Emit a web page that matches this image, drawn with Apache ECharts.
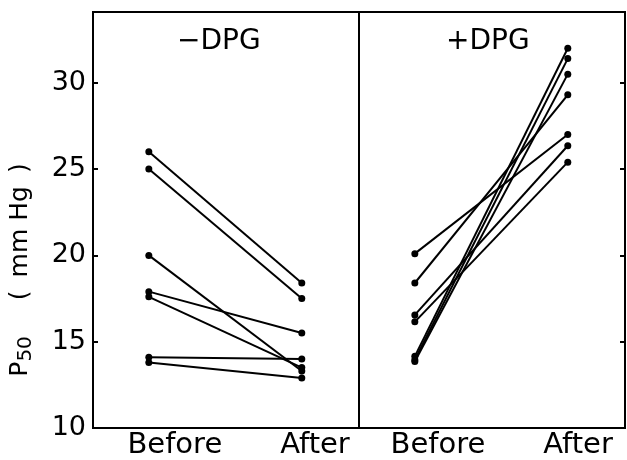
<!DOCTYPE html>
<html lang="en">

<head>
    <meta charset="UTF-8">
    <title>P50 before / after</title>
    <script src="https://cdn.jsdelivr.net/npm/echarts@6/dist/echarts.min.js"></script>
    <style>
        html, body { margin: 0; padding: 0; background: #fff; }
        #chart { width: 627px; height: 460px; }
    </style>
</head>

<body>
    <div id="chart"></div>
</body>

</html>
<script>
    // 数据
    const categories = ['Before', 'After'];
    const yTicks = [10, 15, 20, 25, 30];
    const panels = ['\u2212DPG', '+DPG'];

    // -DPG
    const minusBefore = [26.0, 25.0, 20.0, 17.9, 17.6, 14.1, 13.8];
    const minusAfter = [18.4, 17.5, 13.3, 15.5, 13.5, 14.0, 12.9];

    // +DPG
    const plusBefore = [20.1, 18.4, 16.55, 16.15, 14.15, 13.95, 13.85];
    const plusAfter = [27.0, 29.3, 26.35, 25.4, 32.0, 31.4, 30.5];

    (function () {
        let myChart = echarts.init(document.getElementById('chart'));
        let font = 'DejaVu Sans';
        // 标签位置（与点位略有偏移）
        let labelPos = [[0.17, 1.086], [0.151, 1.067]];

        // 每个受试者一条线
        function makeSeries(before, after, idx) {
            let list = [];
            for (let i = 0; i < before.length; i++) {
                list.push({
                    type: 'line',
                    xAxisIndex: idx,
                    yAxisIndex: idx,
                    symbol: 'circle',
                    symbolSize: 7,
                    lineStyle: { color: '#000', width: 2 },
                    itemStyle: { color: '#000' },
                    emphasis: { disabled: true },
                    data: [[0, before[i]], [1, after[i]]]
                });
            }
            return list;
        }

        function xAxis(idx) {
            return {
                type: 'value',
                gridIndex: idx,
                min: -0.365,
                max: 1.374,
                splitLine: { show: false },
                axisLine: { show: false },
                axisTick: { show: false },
                axisLabel: {
                    customValues: labelPos[idx],
                    formatter: function (v) { return v < 0.5 ? categories[0] : categories[1]; },
                    color: '#000',
                    fontFamily: font,
                    fontSize: 29,
                    margin: 3
                }
            };
        }

        function yAxis(idx) {
            return {
                type: 'value',
                gridIndex: idx,
                position: idx === 0 ? 'left' : 'right',
                min: 10,
                max: 34.1,
                interval: 5,
                splitLine: { show: false },
                axisLine: { show: true, onZero: false, lineStyle: { color: '#000', width: 2 } },
                axisTick: { inside: true, length: 5, lineStyle: { color: '#000', width: 2 } },
                axisLabel: {
                    show: idx === 0,
                    showMaxLabel: false,
                    color: '#000',
                    fontFamily: font,
                    fontSize: 27,
                    margin: 7,
                    formatter: function (v) { return yTicks.indexOf(v) >= 0 ? String(v) : ''; }
                }
            };
        }

        let yLeft = yAxis(0);
        yLeft.name = '{p|P}{s|50}{g|}{p|(}{h|}{p|mm Hg}{h|}{p|)}';
        yLeft.nameLocation = 'middle';
        yLeft.nameRotate = 90;
        yLeft.nameGap = 57;
        yLeft.nameTextStyle = {
            color: '#000',
            padding: [0, 100, 0, 0],
            rich: {
                p: { fontFamily: font, fontSize: 25, color: '#000' },
                s: { fontFamily: font, fontSize: 20, color: '#000', padding: [12, 0, 0, 0] },
                g: { width: 36 },
                h: { width: 13 }
            }
        };

        let option = {
            animation: false,
            grid: [
                { left: 93, right: 268, top: 12, bottom: 32, show: true, borderColor: '#000', borderWidth: 2 },
                { left: 359, right: 2, top: 12, bottom: 32, show: true, borderColor: '#000', borderWidth: 2 }
            ],
            xAxis: [xAxis(0), xAxis(1)],
            yAxis: [yLeft, yAxis(1)],
            graphic: [
                {
                    type: 'text', left: 177, top: 28,
                    style: { text: panels[0], fontFamily: font, fontSize: 28, fill: '#000' }
                },
                {
                    type: 'text', left: 446, top: 28,
                    style: { text: panels[1], fontFamily: font, fontSize: 28, fill: '#000' }
                }
            ],
            series: makeSeries(minusBefore, minusAfter, 0).concat(makeSeries(plusBefore, plusAfter, 1))
        };
        myChart.setOption(option);
    })()
</script>
